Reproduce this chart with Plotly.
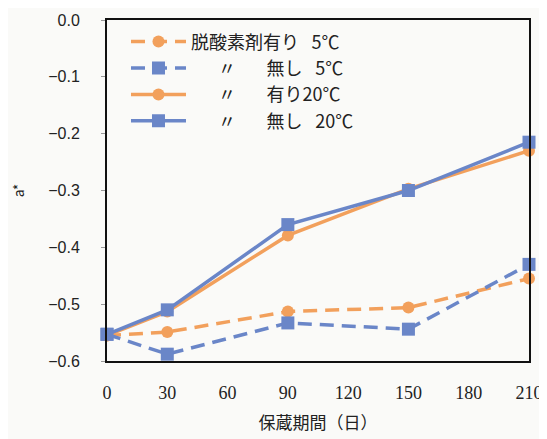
import plotly.graph_objects as go

days = [0, 30, 90, 150, 210]
with_absorber_5C = [-0.555, -0.549, -0.513, -0.506, -0.455]
without_absorber_5C = [-0.553, -0.588, -0.533, -0.544, -0.430]
with_absorber_20C = [-0.555, -0.513, -0.379, -0.297, -0.230]
without_absorber_20C = [-0.553, -0.510, -0.360, -0.300, -0.215]
names = ["脱酸素剤有り\u2002\u20095℃",
         "\u3000\u2002〃\u3000\u2002\u2009無し\u2002\u20095℃",
         "\u3000\u2002〃\u3000\u2002\u2009有り20℃",
         "\u3000\u2002〃\u3000\u2002\u2009無し\u2002\u200920℃"]

orange = "#F2A05C"
blue = "#6A86C8"

fig = go.Figure()
series = [
    (with_absorber_5C, orange, "14px,8px", "circle", 12),
    (without_absorber_5C, blue, "14px,8px", "square", 13),
    (with_absorber_20C, orange, "solid", "circle", 12),
    (without_absorber_20C, blue, "solid", "square", 13),
]
for (vals, col, dash, sym, sz), nm in zip(series, names):
    fig.add_trace(go.Scatter(
        x=days, y=vals, name=nm, mode="lines+markers",
        line=dict(color=col, width=3.5, dash=dash),
        marker=dict(color=col, symbol=sym, size=sz),
        cliponaxis=False,
    ))

fig.update_layout(
    width=539, height=431,
    margin=dict(l=99, r=18, t=12, b=78),
    paper_bgcolor="#FAFAF8", plot_bgcolor="#FAFAF8",
    font=dict(family="Noto Sans CJK JP", color="#222"),
    showlegend=True,
    legend=dict(x=0.045, y=0.99, xanchor="left", yanchor="top",
                bgcolor="rgba(0,0,0,0)", font=dict(size=18),
                tracegroupgap=0, itemwidth=55),
)
fig.update_xaxes(
    range=[0, 210], tickvals=[0, 30, 60, 90, 120, 150, 180, 210],
    showgrid=False, zeroline=False, showline=True, linecolor="#111", linewidth=2,
    mirror=True, ticks="", automargin=False, ticklabelstandoff=14,
    tickfont=dict(family="Liberation Serif", size=18, color="#222"),
    title=dict(text="保蔵期間（日）", font=dict(size=17), standoff=16),
)
fig.update_yaxes(
    range=[-0.6, 0.0], tickvals=[0, -0.1, -0.2, -0.3, -0.4, -0.5, -0.6],
    tickformat=".1f",
    showgrid=False, zeroline=False, showline=True, linecolor="#111", linewidth=2,
    mirror=True, ticks="outside", ticklen=4, tickcolor="#999", automargin=False,
    ticklabelstandoff=18,
    tickfont=dict(family="Liberation Sans", size=16, color="#222"),
    title=dict(text="a*", font=dict(size=14), standoff=28),
)
fig.write_html("out.html")
